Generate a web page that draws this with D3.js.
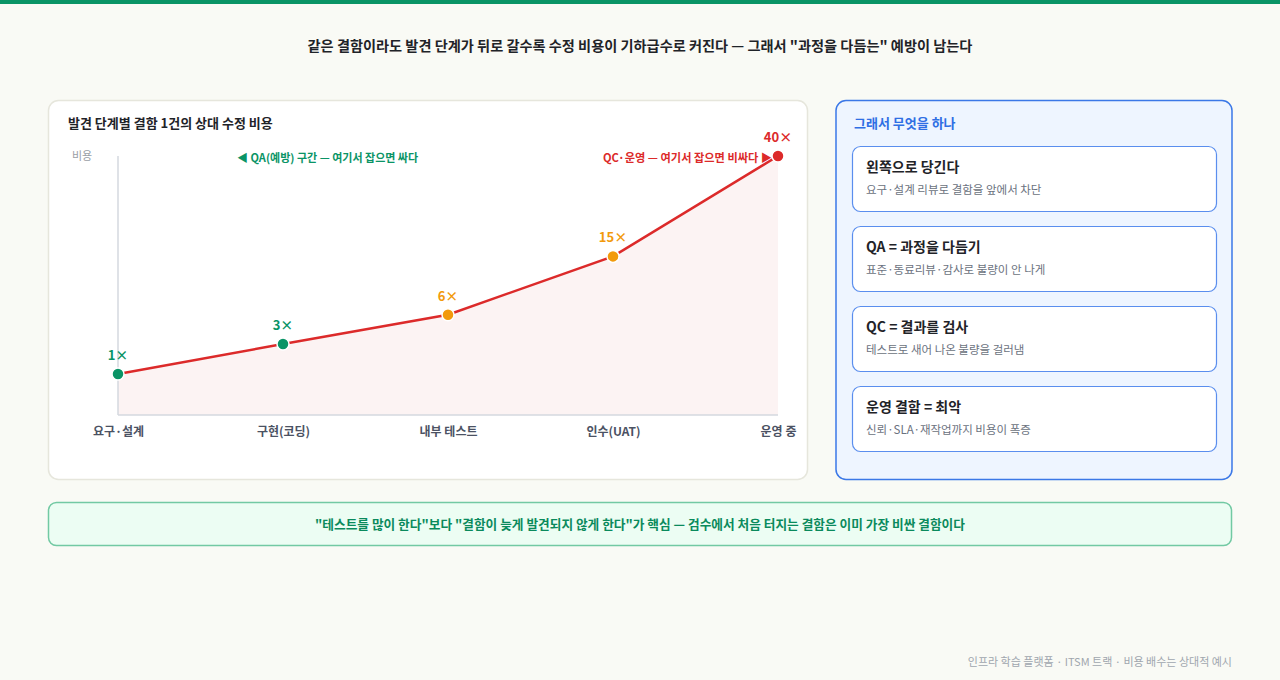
<!DOCTYPE html>
<html>
<head>
<meta charset="utf-8">
<script src="https://cdn.jsdelivr.net/npm/d3@7"></script>
<style>
  html, body { margin: 0; padding: 0; background: #f9faf5; }
  svg { display: block; font-family: "Noto Sans CJK KR", "Noto Sans", sans-serif; }
</style>
</head>
<body>
<svg id="chart" width="1280" height="680"></svg>
<script>
var stages = ["요구·설계", "구현(코딩)", "내부 테스트", "인수(UAT)", "운영 중"];
var costs = [1, 3, 6, 15, 40];
var phases = ["prevent", "prevent", "detect", "detect", "operate"];

var titleText = "같은 결함이라도 발견 단계가 뒤로 갈수록 수정 비용이 기하급수로 커진다 — 그래서 \"과정을 다듬는\" 예방이 남는다";
var chartTitle = "발견 단계별 결함 1건의 상대 수정 비용";
var yLabel = "비용";
var noteLeft = "◀ QA(예방) 구간 — 여기서 잡으면 싸다";
var noteRight = "QC·운영 — 여기서 잡으면 비싸다 ▶";

var sideTitle = "그래서 무엇을 하나";
var cardTitles = ["왼쪽으로 당긴다", "QA = 과정을 다듬기", "QC = 결과를 검사", "운영 결함 = 최악"];
var cardSubs = ["요구·설계 리뷰로 결함을 앞에서 차단", "표준·동료리뷰·감사로 불량이 안 나게", "테스트로 새어 나온 불량을 걸러냄", "신뢰·SLA·재작업까지 비용이 폭증"];

var bannerText = "\"테스트를 많이 한다\"보다 \"결함이 늦게 발견되지 않게 한다\"가 핵심 — 검수에서 처음 터지는 결함은 이미 가장 비싼 결함이다";
var footerText = "인프라 학습 플랫폼 · ITSM 트랙 · 비용 배수는 상대적 예시";

var svg = d3.select("#chart");

// top bar
svg.append("rect").attr("x", 0).attr("y", 0).attr("width", 1280).attr("height", 4).attr("fill", "#0a9466");

svg.append("text")
    .attr("x", 640).attr("y", 51)
    .attr("text-anchor", "middle")
    .attr("font-size", 14.2).attr("font-weight", 700)
    .attr("fill", "#1f2328")
    .text(titleText);

// left panel
svg.append("rect")
    .attr("x", 48.5).attr("y", 100.5).attr("width", 759).attr("height", 379)
    .attr("rx", 10)
    .attr("fill", "#ffffff").attr("stroke", "#e6e6dc").attr("stroke-width", 1.5);

svg.append("text")
    .attr("x", 68).attr("y", 128)
    .attr("font-size", 13).attr("font-weight", 700).attr("fill", "#1f2328")
    .text(chartTitle);

var x = d3.scalePoint().domain(stages).range([118, 778]);
var y = d3.scaleSqrt().domain([0, 40]).range([415, 156]);
var color = d3.scaleOrdinal().domain(["prevent", "detect", "operate"]).range(["#0a9466", "#f29a0c", "#dc2a2a"]);

var data = stages.map(function (s, i) { return { stage: s, cost: costs[i], phase: phases[i] }; });

var g = svg.append("g");

// area
var area = d3.area()
    .x(function (d) { return x(d.stage); })
    .y0(y(0))
    .y1(function (d) { return y(d.cost); });
g.append("path").datum(data).attr("d", area).attr("fill", "#fcf3f3");

// axes
g.append("line")
    .attr("x1", x(stages[0])).attr("x2", x(stages[0]))
    .attr("y1", y(40)).attr("y2", y(0))
    .attr("stroke", "#d5d9df").attr("stroke-width", 1.5);
g.append("line")
    .attr("x1", x(stages[0])).attr("x2", x(stages[stages.length - 1]))
    .attr("y1", y(0)).attr("y2", y(0))
    .attr("stroke", "#d5d9df").attr("stroke-width", 1.5);

var xAxis = d3.axisBottom(x).tickSize(0).tickPadding(12);
var ax = g.append("g").attr("transform", "translate(0," + y(0) + ")").call(xAxis);
ax.select(".domain").remove();
ax.selectAll("text")
    .attr("font-size", 12).attr("font-weight", 700).attr("fill", "#4b5263")
    .attr("font-family", "\"Noto Sans CJK KR\", sans-serif");

g.append("text")
    .attr("x", 72).attr("y", 160)
    .attr("font-size", 11).attr("fill", "#9aa0a6")
    .text(yLabel);

// line
var line = d3.line()
    .x(function (d) { return x(d.stage); })
    .y(function (d) { return y(d.cost); });
g.append("path").datum(data).attr("d", line)
    .attr("fill", "none").attr("stroke", "#dc2a2a").attr("stroke-width", 2.5);

// dots
g.selectAll(".dot").data(data).enter().append("circle")
    .attr("class", "dot")
    .attr("cx", function (d) { return x(d.stage); })
    .attr("cy", function (d) { return y(d.cost); })
    .attr("r", 6)
    .attr("fill", function (d) { return color(d.phase); })
    .attr("stroke", "#ffffff").attr("stroke-width", 1.5);

g.selectAll(".val").data(data).enter().append("text")
    .attr("class", "val")
    .attr("x", function (d) { return x(d.stage); })
    .attr("y", function (d) { return y(d.cost) - 14; })
    .attr("text-anchor", "middle")
    .attr("font-size", 13).attr("font-weight", 700)
    .attr("fill", function (d) { return color(d.phase); })
    .text(function (d) { return d.cost + "×"; });

// annotations
g.append("text")
    .attr("x", 237).attr("y", 162)
    .attr("font-size", 11).attr("font-weight", 700).attr("fill", "#0a9466")
    .text(noteLeft);
g.append("text")
    .attr("x", x(stages[4]) - 6).attr("y", 162)
    .attr("text-anchor", "end")
    .attr("font-size", 11.2).attr("font-weight", 700).attr("fill", "#dc2a2a")
    .text(noteRight);

// right panel
svg.append("rect")
    .attr("x", 836).attr("y", 100.5).attr("width", 396).attr("height", 379)
    .attr("rx", 10)
    .attr("fill", "#eef5ff").attr("stroke", "#3b78e7").attr("stroke-width", 1.5);

svg.append("text")
    .attr("x", 854).attr("y", 128)
    .attr("font-size", 13).attr("font-weight", 700).attr("fill", "#2f6fe4")
    .text(sideTitle);

var cards = svg.selectAll(".card").data(cardTitles).enter().append("g")
    .attr("class", "card")
    .attr("transform", function (d, i) { return "translate(852," + (146 + i * 80) + ")"; });
cards.append("rect")
    .attr("x", 0.5).attr("y", 0.5).attr("width", 364).attr("height", 65)
    .attr("rx", 8)
    .attr("fill", "#ffffff").attr("stroke", "#5a8eee").attr("stroke-width", 1.2);
cards.append("text")
    .attr("x", 14).attr("y", 26)
    .attr("font-size", 14).attr("font-weight", 700).attr("fill", "#1f2328")
    .text(function (d) { return d; });
cards.append("text")
    .attr("x", 14).attr("y", 48)
    .attr("font-size", 11.5).attr("fill", "#6b7280")
    .text(function (d, i) { return cardSubs[i]; });

// banner
svg.append("rect")
    .attr("x", 48.5).attr("y", 502.5).attr("width", 1183).attr("height", 43)
    .attr("rx", 8)
    .attr("fill", "#ecfdf3").attr("stroke", "#72c9a3").attr("stroke-width", 1.5);
svg.append("text")
    .attr("x", 640).attr("y", 529)
    .attr("text-anchor", "middle")
    .attr("font-size", 12.7).attr("font-weight", 700).attr("fill", "#0a8a5c")
    .text(bannerText);

// footer
svg.append("text")
    .attr("x", 1232).attr("y", 666)
    .attr("text-anchor", "end")
    .attr("font-size", 11).attr("fill", "#a0a6ae")
    .text(footerText);
</script>
</body>
</html>
